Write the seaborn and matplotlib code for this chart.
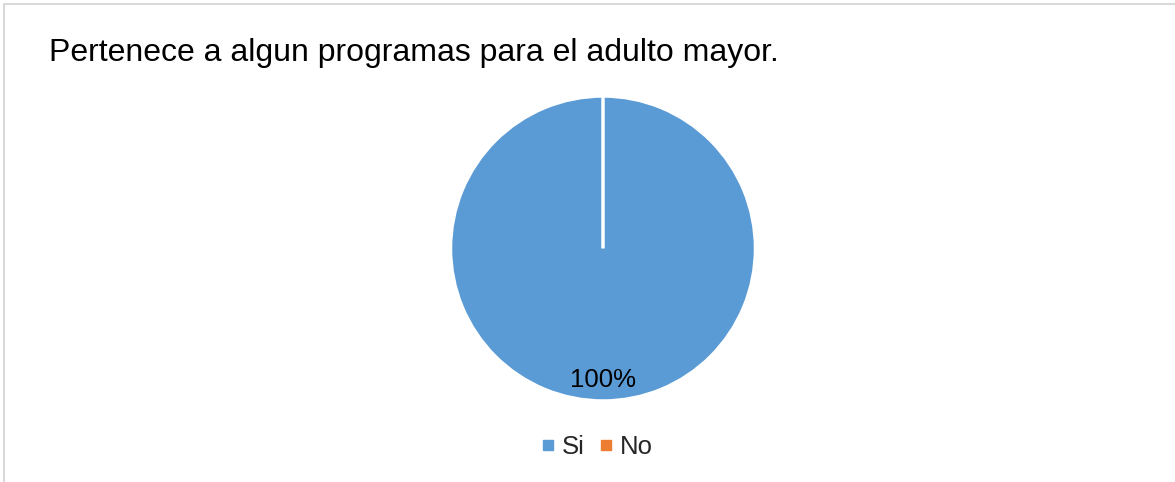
import matplotlib
matplotlib.use("Agg")
import matplotlib.pyplot as plt
from matplotlib.lines import Line2D
import seaborn as sns

sns.set_theme(style="white")
plt.rcParams["font.family"] = ["Liberation Sans", "DejaVu Sans"]

# Data
categories = ["Si", "No"]
values = [100, 0]
title = "Pertenece a algun programas para el adulto mayor."

palette = ["#5B9BD5", "#ED7D31"]

W, H = 1175, 482
fig = plt.figure(figsize=(W / 100, H / 100), dpi=100)
fig.patch.set_facecolor("white")

# Pie axes, centred around (603, 248) px
r = 152.5
cx, cy = 603, 248.5
ax = fig.add_axes([(cx - r) / W, 1 - (cy + r) / H, 2 * r / W, 2 * r / H])

wedges, _, autotexts = ax.pie(
    values,
    colors=palette,
    startangle=90,
    counterclock=False,
    autopct=lambda p: f"{p:.0f}%" if p > 0 else "",
    pctdistance=0.86,
    wedgeprops=dict(edgecolor="white", linewidth=2.5),
    textprops=dict(fontsize=18.5, color="#000000"),
)
ax.set_aspect("equal")
ax.set_xlim(-1, 1)
ax.set_ylim(-1, 1)

# Title
fig.text(49 / W, 1 - 53 / H, title, fontsize=23, color="#000000",
         ha="left", va="center")

# Legend with square markers
handles = [Line2D([0], [0], marker="s", linestyle="none", markersize=6.8,
                  markerfacecolor=c, markeredgecolor=c) for c in palette]
fig.legend(handles, categories, loc="center", bbox_to_anchor=(594 / W, 1 - 447 / H),
           ncol=2, frameon=False, fontsize=18.5, handletextpad=0.05,
           columnspacing=0.3, handlelength=1.0)

# Chart area border (top and left edges visible)
fig.add_artist(Line2D([3.5 / W, 3.5 / W], [0, 1 - 3.5 / H], color="#D9D9D9",
                      linewidth=1.5, transform=fig.transFigure))
fig.add_artist(Line2D([3.5 / W, 1], [1 - 3.5 / H, 1 - 3.5 / H], color="#D9D9D9",
                      linewidth=1.5, transform=fig.transFigure))

fig.savefig("out.png", dpi=100, facecolor="white")
